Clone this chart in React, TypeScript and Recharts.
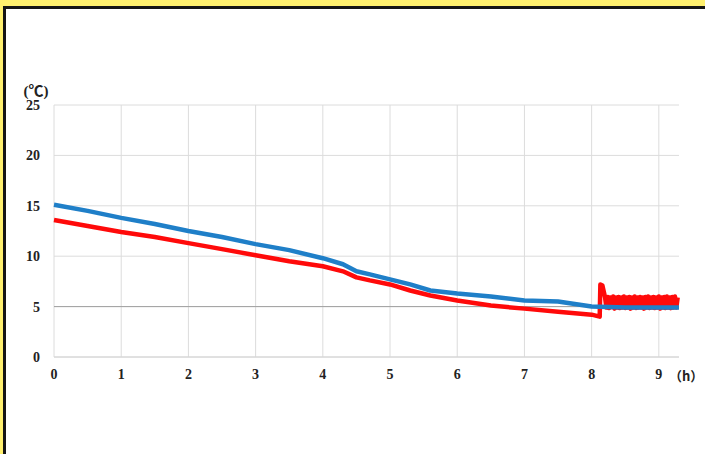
import { LineChart, Line, XAxis, YAxis, CartesianGrid, ReferenceLine } from "recharts";

const hourTicks = [0, 1, 2, 3, 4, 5, 6, 7, 8, 9];
const tempTicks = [0, 5, 10, 15, 20, 25];

const blueHours = [0, 0.5, 1, 1.5, 2, 2.5, 3, 3.5, 4, 4.3, 4.5, 4.7, 5, 5.3, 5.6, 6, 6.5, 7, 7.5, 8, 8.5, 9, 9.3];
const blueTemps = [15.1, 14.5, 13.8, 13.2, 12.5, 11.9, 11.2, 10.6, 9.8, 9.2, 8.5, 8.2, 7.7, 7.2, 6.6, 6.3, 6.0, 5.6, 5.5, 5.0, 4.9, 4.9, 4.9];

const redHours = [
  0, 0.5, 1, 1.5, 2, 2.5, 3, 3.5, 4, 4.3, 4.5, 4.7, 5, 5.3, 5.6, 6, 6.5, 7, 7.5, 8, 8.12, 8.13, 8.16, 8.2,
  8.22, 8.24, 8.26, 8.28, 8.3, 8.32, 8.34, 8.36, 8.38, 8.4, 8.42, 8.44, 8.46, 8.48, 8.5, 8.52, 8.54, 8.56, 8.58,
  8.6, 8.62, 8.64, 8.66, 8.68, 8.7, 8.72, 8.74, 8.76, 8.78, 8.8, 8.82, 8.84, 8.86, 8.88, 8.9, 8.92, 8.94, 8.96,
  8.98, 9.0, 9.02, 9.04, 9.06, 9.08, 9.1, 9.12, 9.14, 9.16, 9.18, 9.2, 9.22, 9.24, 9.26, 9.28,
];
const redTemps = [
  13.6, 13.0, 12.4, 11.9, 11.3, 10.7, 10.1, 9.5, 9.0, 8.5, 7.9, 7.6, 7.2, 6.6, 6.1, 5.6, 5.1, 4.8, 4.5, 4.2, 4.0, 7.2, 7.1, 5.9,
  4.9, 5.95, 4.85, 5.9, 4.95, 6.0, 4.8, 5.9, 4.9, 5.95, 4.85, 5.9, 4.9, 6.0, 4.85, 5.9, 4.9, 5.95, 4.8,
  5.9, 4.9, 6.0, 4.85, 5.9, 4.9, 5.95, 4.9, 5.9, 4.8, 5.95, 4.9, 6.0, 4.85, 5.9, 4.9, 5.95, 4.85, 5.9,
  4.9, 6.0, 4.8, 5.9, 4.9, 5.95, 4.85, 6.0, 4.9, 5.9, 4.85, 5.95, 4.9, 6.0, 4.9, 5.9,
];

const blueSeries = blueHours.map((h, i) => ({ h, t: blueTemps[i] }));
const redSeries = redHours.map((h, i) => ({ h, t: redTemps[i] }));

const tickFont = { fontFamily: "'Liberation Serif', 'Times New Roman', serif", fontWeight: 700, fontSize: 14, fill: "#222" };

export default function App() {
  return (
    <div style={{ position: "absolute", left: 0, top: 0, width: 705, height: 454, background: "#fff", overflow: "hidden" }}>
      <div style={{ position: "absolute", left: 0, top: 0, width: 705, height: 6, background: "#FFF06E" }} />
      <div style={{ position: "absolute", left: 0, top: 0, width: 3, height: 454, background: "#FFF06E" }} />
      <div style={{ position: "absolute", left: 3, top: 6, width: 702, height: 3, background: "#151515" }} />
      <div style={{ position: "absolute", left: 3, top: 6, width: 3, height: 448, background: "#151515" }} />
      <div style={{ position: "absolute", left: 0, top: 0 }}>
        <LineChart width={705} height={454} margin={{ top: 105, right: 26, bottom: 67, left: 0 }}>
          <CartesianGrid stroke="#dcdcdc" horizontalValues={tempTicks} verticalValues={hourTicks} />
          <ReferenceLine y={5} stroke="#a0a0a0" strokeWidth={1} />
          <XAxis
            type="number"
            dataKey="h"
            domain={[0, 9.3]}
            ticks={hourTicks}
            height={30}
            tickSize={0}
            tickMargin={12}
            axisLine={{ stroke: "#d4d4d4" }}
            tick={tickFont}
            label={{
              value: "（h）",
              position: "right",
              offset: -10,
              dy: 4,
              fontFamily: "'Noto Sans CJK SC', 'Liberation Serif', serif",
              fontWeight: 700,
              fontSize: 13,
              fill: "#222",
            }}
          />
          <YAxis
            type="number"
            dataKey="t"
            domain={[0, 25]}
            ticks={tempTicks}
            width={54}
            tickSize={0}
            tickMargin={14}
            axisLine={false}
            tick={tickFont}
            label={{
              value: "(℃)",
              position: "top",
              offset: 9,
              dx: 9,
              fontFamily: "'Liberation Serif', 'Noto Sans CJK SC', serif",
              fontWeight: 700,
              fontSize: 15,
              fill: "#222",
            }}
          />
          <Line data={redSeries} dataKey="t" type="linear" stroke="#ff0a0a" strokeWidth={4.5} strokeLinejoin="round" dot={false} isAnimationActive={false} />
          <Line data={blueSeries} dataKey="t" type="linear" stroke="#1f7fc8" strokeWidth={4.5} strokeLinejoin="round" dot={false} isAnimationActive={false} />
        </LineChart>
      </div>
    </div>
  );
}
